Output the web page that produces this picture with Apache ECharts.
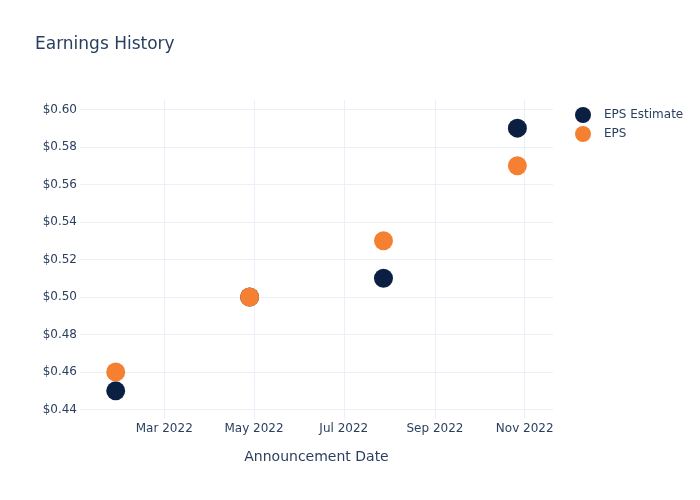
<!DOCTYPE html>
<html><head><meta charset="utf-8">
<script src="https://cdn.jsdelivr.net/npm/echarts@6/dist/echarts.min.js"></script>
<style>html,body{margin:0;padding:0;background:#fff}#c{width:700px;height:500px}</style>
</head><body><div id="c"></div>
<script>
const dates = ['2022-01-27', '2022-04-28', '2022-07-28', '2022-10-27'];
const epsEstimate = [0.45, 0.50, 0.51, 0.59];
const eps = [0.46, 0.50, 0.53, 0.57];
const xTickDates = ['2022-03-01', '2022-05-01', '2022-07-01', '2022-09-01', '2022-11-01'];
const xTickLabels = ['Mar 2022', 'May 2022', 'Jul 2022', 'Sep 2022', 'Nov 2022'];
const xRange = ['2022-01-02T17:30:00', '2022-11-20T05:00:00'];
const yRange = [0.435, 0.605];

const font = 'DejaVu Sans, Verdana, sans-serif';
const txt = '#2a3f5f';
const gridColor = '#EBF0F8';
const ts = d => new Date(d + (d.length === 10 ? 'T00:00:00' : '')).getTime();

const chart = echarts.init(document.getElementById('c'), null, {renderer: 'canvas'});
chart.setOption({
  animation: false,
  backgroundColor: '#fff',
  textStyle: {fontFamily: font},
  title: {text: 'Earnings History', left: 35, top: 36, padding: 0,
    textStyle: {fontFamily: font, fontSize: 17, fontWeight: 'normal', color: txt}},
  legend: {
    orient: 'vertical', left: 575, top: 107, padding: 0, itemGap: 3, itemWidth: 16, itemHeight: 16,
    icon: 'circle',
    textStyle: {fontFamily: font, fontSize: 12, color: txt, padding: [0, 0, 0, 8]},
    data: ['EPS Estimate', 'EPS']
  },
  grid: {left: 80, right: 147, top: 100, bottom: 81, containLabel: false},
  xAxis: {
    type: 'value',
    min: ts(xRange[0]), max: ts(xRange[1]),
    name: 'Announcement Date', nameLocation: 'middle', nameGap: 31,
    nameTextStyle: {fontFamily: font, fontSize: 14, color: txt},
    axisLine: {show: false}, axisTick: {show: false},
    splitLine: {show: false},
    axisLabel: {show: false}
  },
  yAxis: {
    type: 'value', min: yRange[0], max: yRange[1], interval: 0.005,
    axisLine: {show: false}, axisTick: {show: false},
    axisLabel: {
      fontFamily: font, fontSize: 12, color: txt, margin: 3,
      formatter: v => (Math.round(v * 1000) % 20 === 0) ? '$' + v.toFixed(2) : ''
    },
    splitLine: {show: true, lineStyle: {width: 1,
      color: ['rgba(0,0,0,0)', gridColor, 'rgba(0,0,0,0)', 'rgba(0,0,0,0)']}}
  },
  series: [
    {
      name: 'EPS Estimate', type: 'scatter', symbolSize: 19,
      itemStyle: {color: '#0B1F42', opacity: 1},
      z: 3,
      data: dates.map((d, i) => [ts(d), epsEstimate[i]]),
      markLine: {
        silent: true, symbol: 'none', z: 1,
        lineStyle: {color: gridColor, type: 'solid', width: 1},
        label: {show: true, position: 'start', distance: 4,
          fontFamily: font, fontSize: 12, color: txt,
          formatter: p => xTickLabels[xTickDates.map(ts).indexOf(p.value)]},
        emphasis: {disabled: true},
        data: xTickDates.map(d => ({xAxis: ts(d)}))
      }
    },
    {
      name: 'EPS', type: 'scatter', symbolSize: 19,
      itemStyle: {color: '#F58031', opacity: 1},
      z: 4,
      data: dates.map((d, i) => [ts(d), eps[i]])
    }
  ]
});
</script></body></html>
